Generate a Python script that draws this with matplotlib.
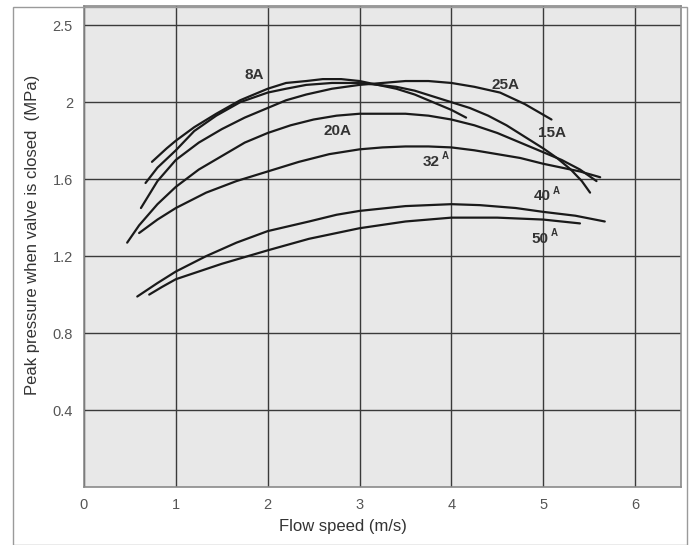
import matplotlib
matplotlib.use("Agg")
import matplotlib.pyplot as plt
import matplotlib.patches as mpatches

plt.rcParams['font.family'] = ['Liberation Sans', 'DejaVu Sans']

# curves: flow speed (m/s) -> peak pressure (axis units)
x8 = [0.74, 0.9, 1.0, 1.2, 1.44, 1.7, 2.0, 2.2, 2.42, 2.6, 2.8, 3.0, 3.2, 3.4, 3.6, 3.8, 4.0, 4.16]
y8 = [1.69, 1.76, 1.80, 1.87, 1.94, 2.01, 2.07, 2.10, 2.11, 2.12, 2.12, 2.11, 2.09, 2.07, 2.04, 2.00, 1.96, 1.92]

x15 = [0.67, 0.8, 1.0, 1.2, 1.44, 1.7, 2.0, 2.2, 2.42, 2.7, 3.0, 3.2, 3.4, 3.6, 3.8, 4.0,
       4.2, 4.4, 4.6, 4.8, 5.0, 5.15, 5.3, 5.42, 5.51]
y15 = [1.58, 1.66, 1.75, 1.85, 1.93, 2.00, 2.05, 2.07, 2.09, 2.10, 2.10, 2.09, 2.08, 2.06, 2.03, 2.00,
       1.97, 1.93, 1.88, 1.82, 1.76, 1.71, 1.65, 1.59, 1.53]

x25 = [0.62, 0.8, 1.0, 1.25, 1.5, 1.75, 2.0, 2.2, 2.42, 2.7, 3.0, 3.25, 3.5, 3.75, 4.0, 4.25, 4.53, 4.8, 5.09]
y25 = [1.45, 1.59, 1.70, 1.79, 1.86, 1.92, 1.97, 2.01, 2.04, 2.07, 2.09, 2.10, 2.11, 2.11, 2.10, 2.08, 2.05, 1.99, 1.91]

x20 = [0.47, 0.6, 0.8, 1.0, 1.25, 1.5, 1.75, 2.0, 2.25, 2.5, 2.75, 3.0, 3.25, 3.5, 3.75,
       4.0, 4.25, 4.5, 4.75, 5.0, 5.2, 5.4, 5.58]
y20 = [1.27, 1.36, 1.47, 1.56, 1.65, 1.72, 1.79, 1.84, 1.88, 1.91, 1.93, 1.94, 1.94, 1.94, 1.93,
       1.91, 1.88, 1.84, 1.79, 1.74, 1.70, 1.65, 1.59]

x32 = [0.60, 0.8, 1.0, 1.33, 1.66, 2.0, 2.34, 2.67, 3.0, 3.25, 3.5, 3.75, 4.0, 4.25, 4.5,
       4.75, 5.0, 5.2, 5.4, 5.62]
y32 = [1.32, 1.39, 1.45, 1.53, 1.59, 1.64, 1.69, 1.73, 1.755, 1.765, 1.77, 1.77, 1.765, 1.75, 1.73,
       1.71, 1.68, 1.66, 1.64, 1.61]

x40 = [0.58, 0.8, 1.0, 1.33, 1.66, 2.0, 2.45, 2.75, 3.0, 3.5, 4.0, 4.31, 4.7, 5.0, 5.35, 5.67]
y40 = [0.99, 1.06, 1.12, 1.20, 1.27, 1.33, 1.38, 1.415, 1.435, 1.46, 1.47, 1.465, 1.45, 1.43, 1.41, 1.38]

x50 = [0.71, 0.85, 1.0, 1.25, 1.5, 1.75, 2.0, 2.45, 2.75, 3.0, 3.5, 4.0, 4.5, 5.0, 5.2, 5.40]
y50 = [1.00, 1.04, 1.08, 1.12, 1.16, 1.195, 1.23, 1.29, 1.32, 1.345, 1.38, 1.40, 1.40, 1.39, 1.38, 1.37]

curves = [(x8, y8), (x15, y15), (x25, y25), (x20, y20), (x32, y32), (x40, y40), (x50, y50)]

xticks = [0, 1, 2, 3, 4, 5, 6]
yticks = [0.4, 0.8, 1.2, 1.6, 2.0, 2.4]
ytick_labels = ['0.4', '0.8', '1.2', '1.6', '2', '2.5']

fig = plt.figure(figsize=(6.9, 5.45), dpi=100)
ax = fig.add_axes([84/690, 1-487/545, (681-84)/690, (487-6)/545])
ax.set_facecolor('#e8e8e8')

for xs, ys in curves:
    ax.plot(xs, ys, color='#1a1a1a', lw=1.6, solid_capstyle='round', zorder=3)

ax.set_xlim(0, 6.5)
ax.set_ylim(0, 2.5)
ax.set_xticks(xticks)
ax.set_xticklabels([str(t) for t in xticks])
ax.set_yticks(yticks)
ax.set_yticklabels(ytick_labels)
ax.tick_params(length=0, labelsize=10.5, labelcolor='#555555', pad=8)
ax.grid(True, color='#3a3a3a', lw=1.0)
ax.set_axisbelow(True)
for s in ax.spines.values():
    s.set_color('#8a8a8a')
    s.set_linewidth(1.2)

lab = dict(fontsize=11, fontweight='bold', color='#333333', ha='center', va='center', zorder=4)
sup = dict(fontsize=7, fontweight='bold', color='#333333', ha='center', va='center', zorder=4)
ax.text(1.85, 2.14, '8A', **lab)
ax.text(4.59, 2.09, '25A', **lab)
ax.text(2.76, 1.85, '20A', **lab)
ax.text(5.10, 1.84, '15A', **lab)
ax.text(3.78, 1.69, '32', **lab)
ax.text(3.93, 1.72, 'A', **sup)
ax.text(4.99, 1.51, '40', **lab)
ax.text(5.14, 1.54, 'A', **sup)
ax.text(4.97, 1.29, '50', **lab)
ax.text(5.12, 1.32, 'A', **sup)

fig.text(343/690, 1-527/545, 'Flow speed (m/s)', fontsize=12, color='#333333', ha='center', va='center')
fig.text(33/690, 1-235/545, 'Peak pressure when valve is closed  (MPa)', fontsize=12,
         color='#333333', ha='center', va='center', rotation=90)

fig.patches.append(mpatches.Rectangle((13/690, 0), (687-13)/690, 1-7/545, transform=fig.transFigure,
                                      fill=False, edgecolor='#9a9a9a', lw=1.0))

plt.savefig('out.png', dpi=100)
